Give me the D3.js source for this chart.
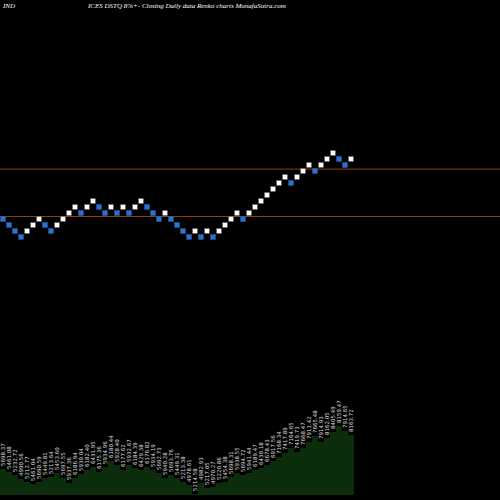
<!DOCTYPE html>
<html>
<head>
<meta charset="utf-8">
<script src="https://cdn.jsdelivr.net/npm/d3@7"></script>
<style>
  body { margin: 0; background: #000; }
</style>
</head>
<body>
<div id="chart"></div>
<script>
// brick levels (each step = one renko box)
const levels = [3, 2, 1, 0, 1, 2, 3, 2, 1, 2, 3, 4, 5, 4, 5, 6, 5, 4, 5, 4,
  5, 4, 5, 6, 5, 4, 3, 4, 3, 2, 1, 0, 1, 0, 1, 0, 1, 2, 3, 4,
  3, 4, 5, 6, 7, 8, 9, 10, 9, 10, 11, 12, 11, 12, 13, 14, 13, 12, 13];
// volume per brick (relative)
const volumes = [26, 23, 20, 16, 13, 11, 13, 17, 18, 22, 17, 12, 17, 21, 25, 28, 23, 28, 34, 30,
  25, 30, 27, 25, 28, 25, 22, 17, 20, 17, 13, 10, 1, 12, 7, 8, 12, 13, 18, 22,
  20, 22, 25, 27, 30, 34, 38, 42, 47, 43, 47, 53, 59, 53, 57, 63, 69, 64, 60];
const closeLabels = ["5698.37", "5461.08", "5232.72", "4990.56", "5212.77", "5461.04", "5690.59", "5449.81",
  "5213.64", "5453.60", "5697.55", "5937.36", "6186.94", "5930.04", "6182.40", "6431.95",
  "6175.36", "5934.96", "6180.44", "5928.40", "6177.62", "5932.67", "6184.39", "6429.38",
  "6176.82", "5934.19", "5692.73", "5940.28", "5693.76", "5449.31", "5213.38", "4978.61",
  "5214.58", "4982.93", "5217.05", "4970.27", "5220.86", "5454.38", "5698.31", "5938.55",
  "5694.72", "5941.44", "6189.47", "6430.18", "6678.43", "6917.56", "7168.34", "7417.89",
  "7164.65", "7419.73", "7668.47", "7911.42", "7665.48", "7914.93", "8162.05", "8405.49",
  "8159.47", "7914.65", "8163.72"];
const resistances = [10.9, 3.0];

const W = 500, H = 500;
const svg = d3.select("#chart").append("svg").attr("width", W).attr("height", H)
  .style("background", "#000");

const box = 6;
const x = d3.scaleLinear().domain([0, levels.length]).range([0, levels.length * box]);
const y = d3.scaleLinear().domain([0, 14]).range([234, 150]);

svg.append("text").attr("x", 3).attr("y", 8).attr("fill", "#fff")
  .style("font", "italic 7px 'Liberation Serif'").text("IND");
svg.append("text").attr("x", 88).attr("y", 8).attr("fill", "#fff")
  .style("font", "italic 7px 'Liberation Serif'")
  .text("ICES DSTQ 8%+-  Closing Daily data  Renko  charts MunafaSutra.com");

svg.selectAll("line.res").data(resistances).join("line")
  .attr("x1", 0).attr("x2", W)
  .attr("y1", d => y(d) + 0.5).attr("y2", d => y(d) + 0.5)
  .attr("stroke", "#8c4300").attr("stroke-width", 1);

svg.selectAll("rect.brick").data(levels).join("rect")
  .attr("x", (d, i) => x(i) + 0.5)
  .attr("y", d => y(d) + 0.5)
  .attr("width", box - 1).attr("height", box - 1)
  .attr("fill", (d, i) => (i > 0 && d > levels[i - 1]) ? "#ffffff" : "#1a73f0")
  .attr("stroke", "#555").attr("stroke-width", 0.5);

// volume area
const vy = d3.scaleLinear().domain([0, 70]).range([495, 425]);
const pts = volumes.map((v, i) => [i, v]);
pts.push([volumes.length, volumes[volumes.length - 1]]);
svg.append("path").datum(pts)
  .attr("fill", "#0b2d0b")
  .attr("d", d3.area().curve(d3.curveStepAfter)
    .x(d => x(d[0])).y0(vy(0)).y1(d => vy(d[1])));

svg.selectAll("text.lab").data(closeLabels).join("text")
  .attr("transform", (d, i) => `translate(${x(i) + 5},${vy(volumes[i]) - 3}) rotate(-90)`)
  .attr("fill", "#ddd")
  .style("font", "5.5px 'DejaVu Sans'")
  .text(d => d);
</script>
</body>
</html>
